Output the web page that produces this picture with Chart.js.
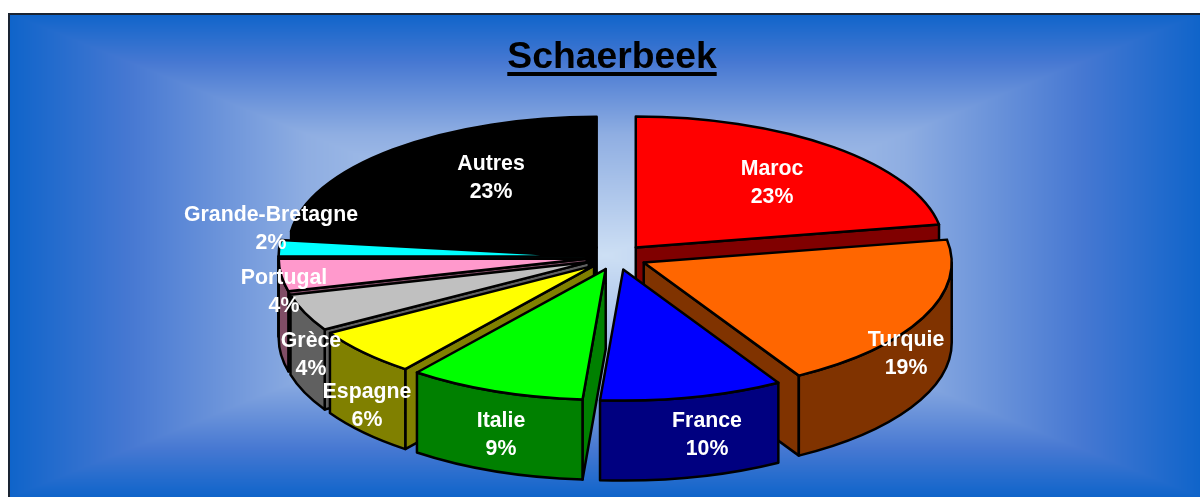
<!DOCTYPE html>
<html>
<head>
<meta charset="utf-8">
<style>html,body{margin:0;padding:0;background:#fff;overflow:hidden}canvas{display:block}</style>
<script src="https://cdn.jsdelivr.net/npm/chart.js@4"></script>
</head>
<body>
<canvas id="c" width="1200" height="497" style="width:1200px;height:497px"></canvas>
<script>
const categories = ['Maroc','Turquie','France','Italie','Espagne','Grèce','Portugal','Grande-Bretagne','Autres'];
const percentLabels = [23,19,10,9,6,4,4,2,23];
const shares = [22.2,19.4,9.6,9.3,5.9,4.6,4,2,23];
const topColors = ['#FF0000','#FF6600','#0000FF','#00FF00','#FFFF00','#C0C0C0','#FF99CC','#00FFFF','#000000'];
const sideColors = ['#800000','#803300','#000080','#008000','#808000','#606060','#804D66','#008080','#000000'];
const paintOrder = ['Autres','Maroc','Grande-Bretagne','Portugal','Grèce','Espagne','Turquie','Italie','France'];
const labelX = [772,906,707,501,367,311,284,271,491];
const labelY = [169,340,421,421,392,341,278,215,164];

const SQUASH = 0.425, DEPTH = 80, EXPLODE = 30, SHIFT_X = 4.5, RADIUS = 308;

const backdrop = {
  id:'backdrop',
  beforeDraw(chart){
    const ctx = chart.ctx, L=9, T=14, R=1200, B=497, cx=605, cy=255;
    ctx.save();
    ctx.fillStyle='#fff'; ctx.fillRect(0,0,1200,497);
    const stops = [[0,[205,223,244]],[0.5,[143,174,226]],[0.8,[70,120,210]],[1,[15,100,202]]];
    const w=R-L, h=B-T, img=ctx.createImageData(w,h);
    for (let py=0;py<h;py++) for (let px=0;px<w;px++){
      const t=Math.min(1,Math.max(Math.abs(px+L-cx)/(cx-L),Math.abs(py+T-cy)/(B-cy)));
      let k=1; while(k<stops.length-1 && t>stops[k][0]) k++;
      const a=stops[k-1], b=stops[k], f=(t-a[0])/(b[0]-a[0]), o=(py*w+px)*4;
      for (let c=0;c<3;c++) img.data[o+c]=a[1][c]+(b[1][c]-a[1][c])*f;
      img.data[o+3]=255;
    }
    ctx.putImageData(img,L,T);
    ctx.strokeStyle='#1a2433'; ctx.lineWidth=2;
    ctx.beginPath(); ctx.moveTo(L,B); ctx.lineTo(L,T); ctx.lineTo(R,T); ctx.stroke();
    ctx.restore();
  }
};

const pie3d = {
  id:'pie3d',
  beforeDatasetDraw(chart, args){
    const ctx = chart.ctx, arcs = args.meta.data;
    ctx.save();
    ctx.lineJoin='round'; ctx.lineWidth=2.5; ctx.strokeStyle='#000';
    const wall = (i, pts) => {
      ctx.beginPath(); pts(); ctx.closePath();
      ctx.fillStyle = sideColors[i]; ctx.fill(); ctx.stroke();
    };
    paintOrder.forEach(name => {
      const i = categories.indexOf(name), arc = arcs[i];
      const s = arc.startAngle, e = arc.endAngle, r = arc.outerRadius, mid = (s+e)/2;
      const x = arc.x + SHIFT_X + Math.cos(mid)*EXPLODE;
      const y = arc.y + Math.sin(mid)*EXPLODE*SQUASH;
      const ry = r*SQUASH;
      const face = a => wall(i, () => {
        const qx = x+Math.cos(a)*r, qy = y+Math.sin(a)*ry;
        ctx.moveTo(x,y); ctx.lineTo(qx,qy); ctx.lineTo(qx,qy+DEPTH); ctx.lineTo(x,y+DEPTH);
      });
      if (Math.cos(s) < 0) face(s);
      if (Math.cos(e) > 0) face(e);
      const a0 = Math.max(s,0), a1 = Math.min(e,Math.PI);
      if (a1 > a0) wall(i, () => {
        ctx.ellipse(x,y,r,ry,0,a0,a1,false);
        ctx.ellipse(x,y+DEPTH,r,ry,0,a1,a0,true);
      });
      ctx.save();
      ctx.translate(x,y); ctx.scale(1,SQUASH); ctx.translate(-arc.x,-arc.y);
      arc.draw(ctx);
      ctx.restore();
      ctx.beginPath(); ctx.moveTo(x,y); ctx.ellipse(x,y,r,ry,0,s,e,false); ctx.closePath(); ctx.stroke();
    });
    ctx.restore();
    return false;
  },
  afterDraw(chart){
    const ctx = chart.ctx, tb = chart.titleBlock;
    ctx.save();
    ctx.font = tb.options.font.weight+' '+tb.options.font.size+'px '+tb.options.font.family;
    const w = ctx.measureText(tb.options.text).width, mx = (tb.left+tb.right)/2;
    ctx.fillStyle='#000'; ctx.fillRect(mx-w/2,72,w,4);
    ctx.font='bold 21.3px "Liberation Sans", Arial, sans-serif';
    ctx.fillStyle='#fff'; ctx.textAlign='center'; ctx.textBaseline='middle';
    categories.forEach((c,i)=>{
      ctx.fillText(c,labelX[i],labelY[i]);
      ctx.fillText(percentLabels[i]+'%',labelX[i],labelY[i]+28);
    });
    ctx.restore();
  }
};

new Chart(document.getElementById('c'),{
  type:'pie',
  data:{labels:categories,datasets:[{data:shares,backgroundColor:topColors,borderWidth:0,borderColor:'#000'}]},
  options:{
    responsive:false,animation:false,radius:RADIUS,
    layout:{padding:{left:24,top:0,right:0,bottom:62.4}},
    plugins:{
      legend:{display:false},tooltip:{enabled:false},
      title:{display:true,text:'Schaerbeek',color:'#000',
        font:{family:'"Liberation Sans", Arial, sans-serif',size:37.3,weight:'bold'},
        padding:{top:35,bottom:0}}
    }
  },
  plugins:[backdrop,pie3d]
});
</script>
</body>
</html>
